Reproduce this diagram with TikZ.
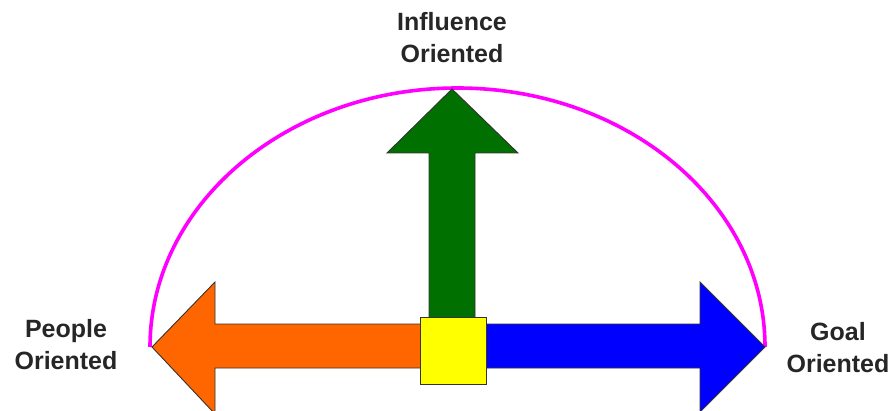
\documentclass[tikz,border=0pt]{standalone}
\usepackage{fontspec}
\setmainfont{Liberation Sans}
\definecolor{arOrange}{HTML}{FF6600}
\definecolor{arBlue}{HTML}{0000FF}
\definecolor{arGreen}{HTML}{007000}
\definecolor{arYellow}{HTML}{FFFF00}
\definecolor{arcMag}{HTML}{FF00FF}
\tikzset{
  arrowshape/.style={draw=black!80, line width=0.9pt, line join=miter},
  lbl/.style={font=\fontsize{25}{32}\selectfont\bfseries, text=black!85, align=center, inner sep=0pt},
}
\begin{document}
\begin{tikzpicture}[x=1pt,y=-1pt]
\useasboundingbox (0,0) rectangle (896,411);
% arc
\draw[arcMag, line width=3.6pt] (150,347) arc[start angle=180, end angle=360, x radius=307.5, y radius=259];
% green arrow
\draw[arrowshape, fill=arGreen] (452,89) -- (518,153) -- (475,153) -- (475,330) -- (429,330) -- (429,153) -- (387,153) -- cycle;
% orange arrow
\draw[arrowshape, fill=arOrange] (152,347) -- (215,282) -- (215,324) -- (430,324) -- (430,368) -- (215,368) -- (215,414) -- cycle;
% blue arrow
\draw[arrowshape, fill=arBlue] (765,347) -- (700,282) -- (700,324) -- (480,324) -- (480,368) -- (700,368) -- (700,412) -- cycle;
% centre square
\node[draw=black!80, line width=0.9pt, fill=arYellow, minimum width=66pt, minimum height=67pt, inner sep=0pt] (sq) at (453,350.5) {};
% labels
\node[lbl] (infl) at (452,38) {Influence\\Oriented};
\node[lbl] (people) at (66,345) {People\\Oriented};
\node[lbl] (goal) at (838,348) {Goal\\Oriented};
\end{tikzpicture}
\end{document}
